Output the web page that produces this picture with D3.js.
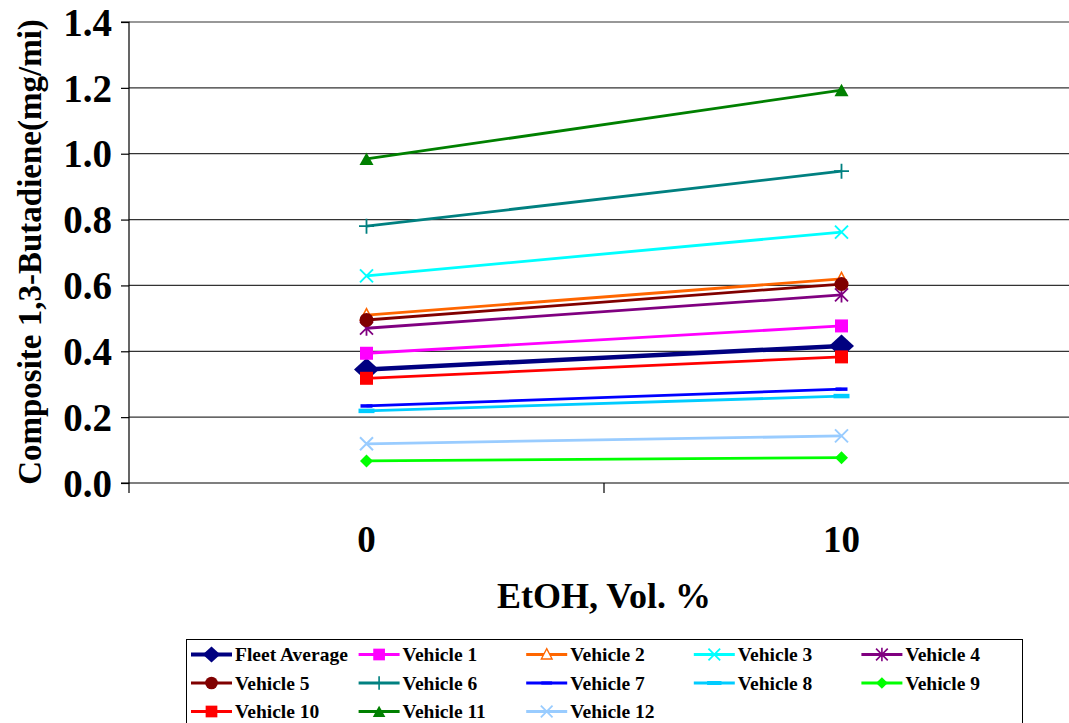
<!DOCTYPE html>
<html><head><meta charset="utf-8">
<script src="https://cdn.jsdelivr.net/npm/d3@7"></script>
<style>body{margin:0;background:#fff;}</style>
</head><body>
<svg id="c" width="1069" height="723"></svg>
<script>
const categories = ["0", "10"];
const yTicks = [0, 0.2, 0.4, 0.6, 0.8, 1.0, 1.2, 1.4];
const seriesNames = ["Fleet Average","Vehicle 1","Vehicle 2","Vehicle 3","Vehicle 4","Vehicle 5","Vehicle 6","Vehicle 7","Vehicle 8","Vehicle 9","Vehicle 10","Vehicle 11","Vehicle 12"];
const fleetAverage = [0.345, 0.416];
const vehicle1  = [0.394, 0.477];
const vehicle2  = [0.510, 0.620];
const vehicle3  = [0.629, 0.762];
const vehicle4  = [0.470, 0.571];
const vehicle5  = [0.495, 0.604];
const vehicle6  = [0.780, 0.947];
const vehicle7  = [0.234, 0.285];
const vehicle8  = [0.219, 0.264];
const vehicle9  = [0.067, 0.077];
const vehicle10 = [0.318, 0.383];
const vehicle11 = [0.984, 1.193];
const vehicle12 = [0.119, 0.143];
const seriesValues = [fleetAverage, vehicle1, vehicle2, vehicle3, vehicle4, vehicle5, vehicle6, vehicle7, vehicle8, vehicle9, vehicle10, vehicle11, vehicle12];
const seriesColors = ["#000080","#FF00FF","#FF6600","#00FFFF","#800080","#800000","#008080","#0000FF","#00CCFF","#00FF00","#FF0000","#008000","#99CCFF"];
const seriesMarkers = ["bigdiamond","square","trianglehollow","x","asterisk","circle","plus","dash","longdash","diamond","square","triangle","x"];

const FONT = "Liberation Serif";
const svg = d3.select("#c");
const pLeft = 129, pRight = 1079, pTop = 22, pBottom = 483;
const x = d3.scalePoint().domain(categories).range([pLeft, pRight]).padding(0.5);
const y = d3.scaleLinear().domain([0, 1.4]).range([pBottom, pTop]);

function font(sel, size) {
  return sel.style("font-family", FONT).style("font-weight", "bold").style("font-size", size + "px").attr("fill", "#000");
}

// gridlines
svg.append("g").selectAll("line").data(yTicks.filter(d => d > 0)).join("line")
  .attr("x1", pLeft).attr("x2", 1069).attr("y1", d => y(d)).attr("y2", d => y(d))
  .attr("stroke", "#333").attr("stroke-width", 1.2);

// y axis
const yAxis = d3.axisLeft(y).tickValues(yTicks).tickFormat(d3.format(".1f")).tickSize(8).tickPadding(9);
const gy = svg.append("g").attr("transform", `translate(${pLeft},0)`).call(yAxis);
gy.select(".domain").attr("stroke", "#000").attr("stroke-width", 1.2).attr("d", `M-8,${pTop}H0V${pBottom}H-8`);
gy.selectAll(".tick line").attr("stroke", "#000").attr("stroke-width", 1.2);
font(gy.selectAll(".tick text"), 39).attr("dy", "0.34em");

// x axis
const step = x.step();
svg.append("line").attr("x1", pLeft).attr("x2", 1069).attr("y1", pBottom).attr("y2", pBottom).attr("stroke", "#000").attr("stroke-width", 1.2);
const bounds = [x(categories[0]) - step/2, x(categories[0]) + step/2, x(categories[1]) + step/2];
svg.append("g").selectAll("line").data(bounds).join("line")
  .attr("x1", d => d).attr("x2", d => d).attr("y1", pBottom).attr("y2", pBottom + 10)
  .attr("stroke", "#000").attr("stroke-width", 1.2);
font(svg.append("g").selectAll("text").data(categories).join("text")
  .attr("x", d => x(d)).attr("y", 552).attr("text-anchor", "middle").text(d => d), 37);

font(svg.append("text").attr("x", 604).attr("y", 608).attr("text-anchor", "middle").text("EtOH, Vol. %"), 36);
font(svg.append("text").attr("transform", "translate(41,252) rotate(-90)").attr("text-anchor", "middle").text("Composite 1,3-Butadiene(mg/mi)"), 33);

function marker(g, type, color, cx, cy, scale) {
  const s = scale || 1;
  const gg = g.append("g").attr("transform", `translate(${cx},${cy}) scale(${s})`);
  switch (type) {
    case "bigdiamond": gg.append("path").attr("d", "M0,-11.5L12.5,0L0,11.5L-12.5,0Z").attr("fill", color); break;
    case "diamond": gg.append("path").attr("d", "M0,-6.5L6.5,0L0,6.5L-6.5,0Z").attr("fill", color); break;
    case "square": gg.append("rect").attr("x", -6.5).attr("y", -6.5).attr("width", 13).attr("height", 13).attr("fill", color); break;
    case "circle": gg.append("circle").attr("r", 7).attr("fill", color); break;
    case "triangle": gg.append("path").attr("d", "M0,-6.5L7,6L-7,6Z").attr("fill", color); break;
    case "trianglehollow": gg.append("path").attr("d", "M0,-6.5L6,5L-6,5Z").attr("fill", "#fff").attr("stroke", color).attr("stroke-width", 1.5); break;
    case "x": gg.append("path").attr("d", "M-6.5,-6.5L6.5,6.5M-6.5,6.5L6.5,-6.5").attr("stroke", color).attr("stroke-width", 2).attr("fill", "none"); break;
    case "asterisk": gg.append("path").attr("d", "M-6.5,-6.5L6.5,6.5M-6.5,6.5L6.5,-6.5M0,-7.5V7.5").attr("stroke", color).attr("stroke-width", 1.8).attr("fill", "none"); break;
    case "plus": gg.append("path").attr("d", "M-7.5,0H7.5M0,-7.5V7.5").attr("stroke", color).attr("stroke-width", 1.8).attr("fill", "none"); break;
    case "dash": gg.append("path").attr("d", "M-6,0H6").attr("stroke", color).attr("stroke-width", 3.5).attr("fill", "none"); break;
    case "longdash": gg.append("path").attr("d", "M-8,0H8").attr("stroke", color).attr("stroke-width", 4.5).attr("fill", "none"); break;
  }
}

const line = d3.line().x((d, i) => x(categories[i])).y(d => y(d));
const plot = svg.append("g");
seriesValues.forEach((vals, k) => {
  const g = plot.append("g");
  g.append("path").attr("d", line(vals)).attr("fill", "none").attr("stroke", seriesColors[k])
    .attr("stroke-width", k === 0 ? 4.5 : 2.8);
  vals.forEach((v, i) => marker(g, seriesMarkers[k], seriesColors[k], x(categories[i]), y(v)));
});

// legend
const lg = svg.append("g");
lg.append("rect").attr("x", 186.5).attr("y", 639.5).attr("width", 836).attr("height", 90).attr("fill", "#fff").attr("stroke", "#000").attr("stroke-width", 1);
seriesNames.forEach((name, k) => {
  const col = k % 5, row = Math.floor(k / 5);
  const sx = 191 + col * 167.6, sy = 654.5 + row * 28.5;
  lg.append("line").attr("x1", sx).attr("x2", sx + 41).attr("y1", sy).attr("y2", sy)
    .attr("stroke", seriesColors[k]).attr("stroke-width", k === 0 ? 4 : 3);
  marker(lg, seriesMarkers[k], seriesColors[k], sx + 20.5, sy, k === 0 ? 0.7 : 0.9);
  font(lg.append("text").attr("x", sx + 44).attr("y", sy + 6.5).text(name), 19.5);
});
</script>
</body></html>
